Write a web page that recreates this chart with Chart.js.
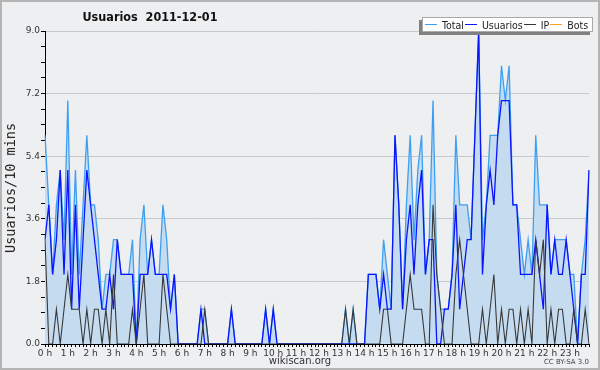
<!DOCTYPE html>
<html>
<head>
<meta charset="utf-8">
<script src="https://cdn.jsdelivr.net/npm/chart.js@4"></script>
<style>
body { margin: 0; }
#wrap { position: relative; width: 600px; height: 370px; background: #eeeff1; font-family: "DejaVu Sans", sans-serif; overflow: hidden; }
#wrap canvas { position: absolute; left: 0; top: 0; }
.frame { position: absolute; left: 0; top: 0; width: 600px; height: 370px; box-sizing: border-box; border: 2px solid #b4b4b4; pointer-events: none; }
.cond { font-family: "DejaVu Sans Condensed", "DejaVu Sans", sans-serif; font-stretch: condensed; }
.title { position: absolute; left: 50px; width: 200px; top: 9px; text-align: center; font-weight: bold; font-size: 12.5px; color: #111; white-space: pre; }
.ylabel { position: absolute; left: 10px; top: 188px; transform: translate(-50%, -50%) rotate(-90deg); font-family: "DejaVu Sans Mono", monospace; font-size: 13.5px; color: #222; white-space: nowrap; }
.legend { position: absolute; left: 422px; top: 17px; width: 171px; height: 15px; box-sizing: border-box; background: #fff; border: 1px solid #aaa; box-shadow: -3px 3px 0 #808080; display: flex; align-items: center; font-size: 10.5px; color: #222; padding-left: 2px; white-space: nowrap; }
.legend .ln { display: inline-block; width: 12px; height: 0; border-top: 1.5px solid; margin: 0 5px 0 0; }
.legend .it { display: flex; align-items: center; margin-right: 1px; }
.foot { position: absolute; left: 250px; width: 100px; top: 355px; text-align: center; font-size: 10px; color: #333; }
.cc { position: absolute; right: 11px; top: 358px; font-size: 7px; color: #444; }
</style>
</head>
<body>
<div id="wrap">
  <canvas id="chart" width="600" height="370"></canvas>
  <div class="title cond">Usuarios  2011-12-01</div>
  <div class="ylabel">Usuarios/10 mins</div>
  <div class="legend cond" id="legend"></div>
  <div class="foot">wikiscan.org</div>
  <div class="cc">CC BY-SA 3.0</div>
  <div class="frame"></div>
</div>
<script>
// hour labels on the x axis, one every 6 slots of 10 minutes
const hours = ["0 h", "1 h", "2 h", "3 h", "4 h", "5 h", "6 h", "7 h", "8 h", "9 h", "10 h", "11 h",
    "12 h", "13 h", "14 h", "15 h", "16 h", "17 h", "18 h", "19 h", "20 h", "21 h", "22 h", "23 h"];

const total = [
    6, 4, 2, 4, 5, 3, 7, 2, 5, 2, 4, 6, 4, 4, 3, 1, 2, 2, 3, 3, 2, 2, 2, 3,
    0, 3, 4, 2, 3, 2, 2, 4, 3, 1, 2, 0, 0, 0, 0, 0, 0, 1, 1, 0, 0, 0, 0, 0,
    0, 1, 0, 0, 0, 0, 0, 0, 0, 0, 1, 0, 1, 0, 0, 0, 0, 0, 0, 0, 0, 0, 0, 0,
    0, 0, 0, 0, 0, 0, 0, 1, 0, 1, 0, 0, 0, 2, 2, 2, 1, 3, 2, 1, 6, 4, 1, 4,
    6, 3, 5, 6, 2, 3, 7, 2, 1, 1, 1, 2, 6, 4, 4, 4, 3, 6, 9, 3, 4, 6, 6, 6,
    8, 7, 8, 4, 4, 3, 2, 3, 2, 6, 4, 4, 4, 2, 3, 3, 3, 3, 2, 2, 0, 2, 3, 5
];

const usuarios = [
    3, 4, 2, 3, 5, 2, 5, 1, 4, 1, 3, 5, 4, 3, 2, 1, 1, 2, 1, 3, 2, 2, 2, 2,
    0, 2, 2, 2, 3, 2, 2, 2, 2, 1, 2, 0, 0, 0, 0, 0, 0, 1, 0, 0, 0, 0, 0, 0,
    0, 1, 0, 0, 0, 0, 0, 0, 0, 0, 1, 0, 1, 0, 0, 0, 0, 0, 0, 0, 0, 0, 0, 0,
    0, 0, 0, 0, 0, 0, 0, 0, 0, 0, 0, 0, 0, 2, 2, 2, 1, 2, 1, 1, 6, 4, 1, 3,
    4, 2, 4, 5, 2, 3, 3, 0, 0, 1, 1, 2, 4, 1, 2, 3, 3, 6, 9, 2, 4, 5, 4, 6,
    7, 7, 7, 4, 4, 2, 2, 2, 2, 3, 2, 1, 4, 2, 3, 2, 2, 3, 2, 1, 0, 2, 2, 5
];

const ip = [
    3, 0, 0, 1, 0, 1, 2, 1, 1, 1, 0, 1, 0, 1, 1, 0, 1, 0, 2, 0, 0, 0, 0, 1,
    0, 1, 2, 0, 0, 0, 0, 2, 1, 0, 0, 0, 0, 0, 0, 0, 0, 0, 1, 0, 0, 0, 0, 0,
    0, 0, 0, 0, 0, 0, 0, 0, 0, 0, 0, 0, 0, 0, 0, 0, 0, 0, 0, 0, 0, 0, 0, 0,
    0, 0, 0, 0, 0, 0, 0, 1, 0, 1, 0, 0, 0, 0, 0, 0, 0, 1, 1, 0, 0, 0, 0, 1,
    2, 1, 1, 1, 0, 0, 4, 2, 1, 0, 0, 0, 2, 3, 2, 1, 0, 0, 0, 1, 0, 1, 2, 0,
    1, 0, 1, 1, 0, 1, 0, 1, 0, 3, 2, 3, 0, 1, 0, 1, 1, 0, 0, 1, 0, 0, 1, 0
];

const bots = [
    0, 0, 0, 0, 0, 0, 0, 0, 0, 0, 0, 0, 0, 0, 0, 0, 0, 0, 0, 0, 0, 0, 0, 0,
    0, 0, 0, 0, 0, 0, 0, 0, 0, 0, 0, 0, 0, 0, 0, 0, 0, 0, 0, 0, 0, 0, 0, 0,
    0, 0, 0, 0, 0, 0, 0, 0, 0, 0, 0, 0, 0, 0, 0, 0, 0, 0, 0, 0, 0, 0, 0, 0,
    0, 0, 0, 0, 0, 0, 0, 0, 0, 0, 0, 0, 0, 0, 0, 0, 0, 0, 0, 0, 0, 0, 0, 0,
    0, 0, 0, 0, 0, 0, 0, 0, 0, 0, 0, 0, 0, 0, 0, 0, 0, 0, 0, 0, 0, 0, 0, 0,
    0, 0, 0, 0, 0, 0, 0, 0, 0, 0, 0, 0, 0, 0, 0, 0, 0, 0, 0, 0, 0, 0, 0, 0
];

// 10 minute slots, labelled with the hour on the full hour
const slots = hours.flatMap(h => [h, "", "", "", "", ""]);

const colors = {
    total: "#3d9ff0",
    usuarios: "#0a14ff",
    ip: "#383838",
    bots: "#ffa31a"
};

const ctx = document.getElementById("chart");

const chart = new Chart(ctx, {
    type: "line",
    data: {
        labels: slots,
        datasets: [
            {
                label: "Total",
                data: total,
                borderColor: colors.total,
                backgroundColor: "#c5dcf0",
                borderWidth: 1.3,
                fill: "origin",
                order: 4
            },
            {
                label: "Usuarios",
                data: usuarios,
                borderColor: colors.usuarios,
                borderWidth: 1.3,
                fill: false,
                order: 2
            },
            {
                label: "IP",
                data: ip,
                borderColor: colors.ip,
                borderWidth: 1.1,
                fill: false,
                order: 1
            },
            {
                label: "Bots",
                data: bots,
                borderColor: colors.bots,
                borderWidth: 1.1,
                fill: false,
                order: 5
            }
        ]
    },
    options: {
        responsive: false,
        animation: false,
        layout: { padding: { top: 31, right: 11, bottom: 10, left: 0 } },
        elements: {
            point: { radius: 0 },
            line: { tension: 0 }
        },
        plugins: {
            legend: { display: false },
            title: { display: false },
            tooltip: { enabled: false }
        },
        scales: {
            x: {
                z: 1,
                offset: false,
                border: { color: "#000", width: 1 },
                grid: { drawOnChartArea: false, color: "#000", tickLength: 3 },
                ticks: {
                    autoSkip: false,
                    maxRotation: 0,
                    padding: 1,
                    color: "#333",
                    font: { family: "DejaVu Sans", size: 9 },
                    callback: (v, i) => slots[i]
                },
                afterFit: s => { s.height = 16; }
            },
            y: {
                min: 0,
                max: 9,
                border: { color: "#000", width: 1 },
                grid: {
                    color: c => (c.index % 4 === 0 && c.index > 0) ? "#c8c8c8" : "transparent",
                    tickColor: "#000",
                    tickLength: 4
                },
                ticks: {
                    stepSize: 0.45,
                    padding: 1,
                    color: "#333",
                    font: { family: "DejaVu Sans", size: 9 },
                    callback: (v, i) => i % 4 === 0 ? v.toFixed(1) : ""
                },
                afterFit: s => { s.width = 45; }
            }
        }
    }
});

// legend box
const legend = document.getElementById("legend");
chart.data.datasets.forEach(ds => {
    const it = document.createElement("span");
    it.className = "it";
    it.innerHTML = '<span class="ln" style="border-color:' + ds.borderColor + '"></span>' + ds.label;
    legend.appendChild(it);
});
</script>
</body>
</html>
